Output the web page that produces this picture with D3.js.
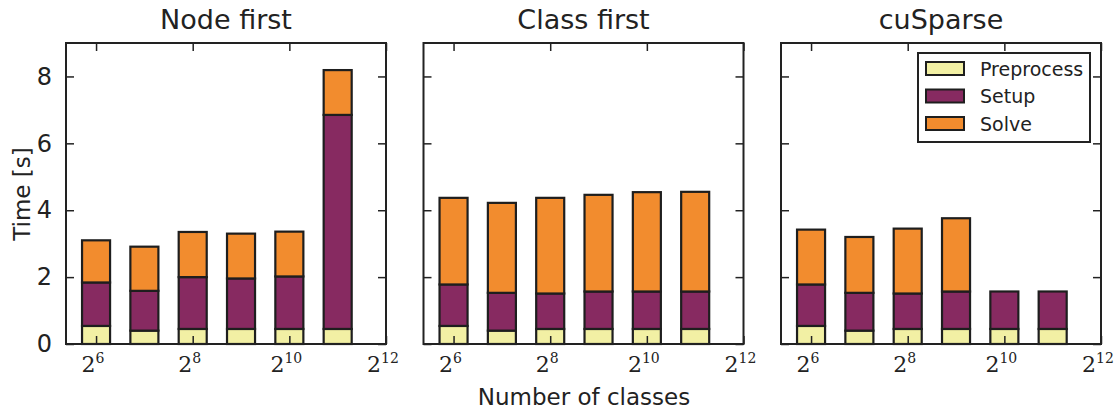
<!DOCTYPE html>
<html>
<head>
<meta charset="utf-8">
<script src="https://cdn.jsdelivr.net/npm/d3@7"></script>
<style>
  html, body { margin: 0; padding: 0; background: #fff; }
  svg { display: block; }
  text { font-family: "DejaVu Sans", sans-serif; fill: #222; }
</style>
</head>
<body>
<svg id="chart" width="1117" height="409"></svg>
<script>
// Number of classes (2^6 .. 2^11) and timings in seconds for each solver layout
const classes = [64, 128, 256, 512, 1024, 2048];
const panelTitles = ["Node first", "Class first", "cuSparse"];
const seriesNames = ["Preprocess", "Setup", "Solve"];

const nodePreprocess = [0.54, 0.40, 0.45, 0.45, 0.45, 0.45];
const nodeSetup      = [1.30, 1.19, 1.55, 1.51, 1.57, 6.40];
const nodeSolve      = [1.26, 1.32, 1.35, 1.34, 1.34, 1.34];

const classPreprocess = [0.54, 0.40, 0.45, 0.45, 0.45, 0.45];
const classSetup      = [1.24, 1.13, 1.06, 1.12, 1.12, 1.12];
const classSolve      = [2.59, 2.69, 2.86, 2.89, 2.97, 2.98];

const cuPreprocess = [0.54, 0.40, 0.45, 0.45, 0.45, 0.45];
const cuSetup      = [1.24, 1.13, 1.06, 1.12, 1.12, 1.12];
const cuSolve      = [1.64, 1.67, 1.94, 2.19, 0, 0];

const yTicks = [0, 2, 4, 6, 8];
const xTickExponents = [6, 8, 10, 12];

const colors = ["#f2f0a4", "#872a61", "#f28c2e"];

const panels = [
  [nodePreprocess, nodeSetup, nodeSolve],
  [classPreprocess, classSetup, classSolve],
  [cuPreprocess, cuSetup, cuSolve]
];

const svg = d3.select("#chart");
const W = 320, H = 301, plotTop = 43;
const lefts = [66, 423.5, 781];
const tickLen = 8;

const x = d3.scaleLog().base(2).domain([Math.pow(2, 5.378), Math.pow(2, 12)]).range([0, W]);
const y = d3.scaleLinear().domain([0, 9]).range([H, 0]);
const halfWidthExp = 0.29; // bar half-width in log2 units

panels.forEach((series, pi) => {
  const g = svg.append("g").attr("transform", `translate(${lefts[pi]},${plotTop})`);

  // stack the three components per class
  const rows = classes.map((c, i) => {
    const r = { c };
    seriesNames.forEach((s, k) => r[s] = series[k][i]);
    return r;
  });
  const stacked = d3.stack().keys(seriesNames)(rows);

  stacked.forEach((layer, k) => {
    g.append("g").selectAll("rect")
      .data(layer.filter(d => d[1] - d[0] > 0))
      .join("rect")
      .attr("x", d => x(d.data.c * Math.pow(2, -halfWidthExp)))
      .attr("width", d => x(d.data.c * Math.pow(2, halfWidthExp)) - x(d.data.c * Math.pow(2, -halfWidthExp)))
      .attr("y", d => y(d[1]))
      .attr("height", d => y(d[0]) - y(d[1]))
      .attr("fill", colors[k])
      .attr("stroke", "#1e1e1e")
      .attr("stroke-width", 2.2);
  });

  const xTickVals = xTickExponents.map(e => Math.pow(2, e));

  // inward ticks on all four sides
  const axB = g.append("g").attr("transform", `translate(0,${H})`)
    .call(d3.axisBottom(x).tickValues(xTickVals).tickSize(-tickLen).tickFormat(""));
  const axT = g.append("g")
    .call(d3.axisTop(x).tickValues(xTickVals).tickSize(-tickLen).tickFormat(""));
  const axL = g.append("g")
    .call(d3.axisLeft(y).tickValues(yTicks).tickSize(-tickLen).tickFormat(pi === 0 ? d3.format("d") : ""));
  const axR = g.append("g").attr("transform", `translate(${W},0)`)
    .call(d3.axisRight(y).tickValues(yTicks).tickSize(-tickLen).tickFormat(""));

  [axB, axT, axL, axR].forEach(a => {
    a.select(".domain").remove();
    a.selectAll(".tick line").attr("stroke", "#222").attr("stroke-width", 1.5);
  });
  axL.selectAll(".tick text")
    .attr("x", -14)
    .style("font-family", "'DejaVu Sans', sans-serif")
    .style("font-size", "24px")
    .attr("fill", "#222");

  // power-of-two tick labels
  const lab = g.append("g").selectAll("text")
    .data(xTickExponents)
    .join("text")
    .attr("x", e => x(Math.pow(2, e)) - 3)
    .attr("y", H + 28)
    .attr("text-anchor", "middle")
    .style("font-family", "'DejaVu Serif', 'Liberation Serif', serif")
    .style("font-size", "22px");
  lab.append("tspan").text("2");
  lab.append("tspan").attr("dy", -9).style("font-size", "14px").text(e => e);

  // frame
  g.append("rect")
    .attr("width", W).attr("height", H)
    .attr("fill", "none").attr("stroke", "#222").attr("stroke-width", 2);

  // title
  g.append("text")
    .attr("x", W / 2).attr("y", -14)
    .attr("text-anchor", "middle")
    .style("font-size", "27px")
    .text(panelTitles[pi]);

  // legend in the last panel
  if (pi === 2) {
    const lg = g.append("g").attr("transform", `translate(${918 - lefts[2]},${53 - plotTop})`);
    lg.append("rect").attr("width", 172).attr("height", 89)
      .attr("fill", "#fff").attr("stroke", "#222").attr("stroke-width", 2);
    seriesNames.forEach((s, k) => {
      const ry = 15.5 + k * 27.5;
      lg.append("rect").attr("x", 8).attr("y", ry - 6.5).attr("width", 38).attr("height", 13)
        .attr("fill", colors[k]).attr("stroke", "#1e1e1e").attr("stroke-width", 2);
      lg.append("text").attr("x", 62).attr("y", ry + 7)
        .style("font-size", "19px").text(s);
    });
  }
});

// shared axis titles
svg.append("text")
  .attr("transform", "translate(30,194) rotate(-90)")
  .attr("text-anchor", "middle")
  .style("font-size", "23px")
  .text("Time [s]");

svg.append("text")
  .attr("x", 584).attr("y", 405)
  .attr("text-anchor", "middle")
  .style("font-size", "23px")
  .text("Number of classes");
</script>
</body>
</html>
